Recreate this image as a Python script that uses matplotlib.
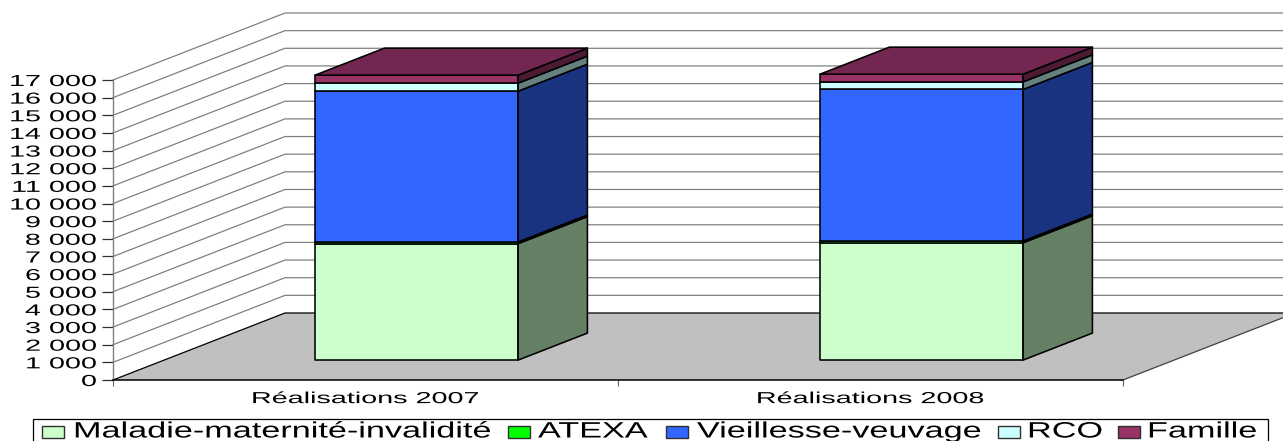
import matplotlib
matplotlib.use("Agg")
import matplotlib.pyplot as plt
from matplotlib.patches import Polygon, Rectangle
from matplotlib.patheffects import AbstractPathEffect
from matplotlib.transforms import Affine2D

categories = ["Réalisations 2007", "Réalisations 2008"]
series_names = ["Maladie-maternité-invalidité", "ATEXA", "Vieillesse-veuvage", "RCO", "Famille"]
maladie = [6600, 6650]
atexa = [95, 95]
vieillesse = [8545, 8592]
rco = [455, 431]
famille = [452, 436]
series_values = [maladie, atexa, vieillesse, rco, famille]
y_ticks = list(range(0, 18000, 1000))
y_tick_labels = [f"{v:,}".replace(",", " ") for v in y_ticks]

front_colors = ["#CCFFCC", "#00FF00", "#3366FF", "#CCFFFF", "#993366"]
side_colors = ["#668066", "#008000", "#1A3380", "#668080", "#4D1A33"]
top_color = "#732650"

W, H = 1283, 441
X0, X1 = 113, 1123      # pixel span of the front category axis
Y0, Y1 = 380, 80        # pixel span of the front value axis
PX_X = (X1 - X0) / 2
PX_Y = (Y0 - Y1) / 17000
DEPTH_X = 172 / PX_X    # wall depth expressed in data units
DEPTH_Y = 67 / PX_Y
BAR_W = 0.402
D_FRONT, D_BACK = 0.297, 0.70


class StretchX(AbstractPathEffect):
    """Widen a real text horizontally around its left/center/right edge."""
    def __init__(self, sx, anchor="left"):
        super().__init__()
        self.sx, self.anchor = sx, anchor

    def draw_path(self, renderer, gc, tpath, affine, rgbFace=None):
        ext = tpath.get_extents(affine)
        x = {"left": ext.x0, "center": (ext.x0 + ext.x1) / 2, "right": ext.x1}[self.anchor]
        new = affine + Affine2D().translate(-x, 0).scale(self.sx, 1).translate(x, 0)
        renderer.draw_path(gc, tpath, new, rgbFace)


plt.rcParams["font.family"] = ["Liberation Sans", "DejaVu Sans"]
fig = plt.figure(figsize=(W / 100, H / 100), dpi=100, facecolor="white")
ax = fig.add_axes([0, 0, 1, 1], facecolor="none")
ax.set_xlim(-X0 / PX_X, (W - X0) / PX_X)
ax.set_ylim(-(H - Y0) / PX_Y, Y0 / PX_Y)


def p(x, v, d=0.0):
    return (x + d * DEPTH_X, v + d * DEPTH_Y)


# gridlines on side and back walls
for v in y_ticks[1:]:
    pts = [p(0, v), p(0, v, 1), p(2, v, 1)]
    ax.plot(*zip(*pts), color="#808080", lw=0.9, zorder=1, solid_joinstyle="miter")

# floor
ax.add_patch(Polygon([p(0, 0), p(2, 0), p(2, 0, 1), p(0, 0, 1)], closed=True,
                     facecolor="#C0C0C0", edgecolor="none", zorder=2))
ax.plot(*zip(*[p(0, 0), p(0, 0, 1), p(2, 0, 1)]), color="black", lw=0.9, zorder=2.1)
ax.plot(*zip(*[p(2, 0), p(2, 0, 1)]), color="#404040", lw=0.9, zorder=2.1)

# stacked 3-D bars
EDGE = dict(edgecolor="black", linewidth=1.15, joinstyle="round", zorder=3)
for i in range(len(categories)):
    xl = i + 0.5 - BAR_W / 2
    xr = i + 0.5 + BAR_W / 2
    base = 0
    for j, vals in enumerate(series_values):
        top = base + vals[i]
        ax.add_patch(Polygon([p(xl, base, D_FRONT), p(xr, base, D_FRONT),
                              p(xr, top, D_FRONT), p(xl, top, D_FRONT)],
                             closed=True, facecolor=front_colors[j], **EDGE))
        ax.add_patch(Polygon([p(xr, base, D_FRONT), p(xr, base, D_BACK),
                              p(xr, top, D_BACK), p(xr, top, D_FRONT)],
                             closed=True, facecolor=side_colors[j], **EDGE))
        base = top
    ax.add_patch(Polygon([p(xl, base, D_FRONT), p(xr, base, D_FRONT),
                          p(xr, base, D_BACK), p(xl, base, D_BACK)],
                         closed=True, facecolor=top_color, **EDGE))

# axes
for s in ("top", "right"):
    ax.spines[s].set_visible(False)
ax.spines["left"].set_position(("data", 0))
ax.spines["left"].set_bounds(0, 17000)
ax.spines["left"].set_color("#808080")
ax.spines["left"].set_linewidth(1.0)
ax.spines["bottom"].set_position(("data", 0))
ax.spines["bottom"].set_bounds(0, 2)
ax.spines["bottom"].set_color("black")
ax.spines["bottom"].set_linewidth(1.1)
for s in ax.spines.values():
    s.set_zorder(4)

ax.set_yticks(y_ticks)
ax.set_yticklabels(y_tick_labels, fontsize=11.5)
ax.tick_params(axis="y", length=7.9, width=0.9, color="#303030", pad=4.0)
ax.set_xticks([0, 1, 2])
ax.set_xticklabels(["", "", ""])
ax.tick_params(axis="x", which="major", length=4.5, width=0.8, color="#606060")
ax.set_xticks([0.5, 1.5], minor=True)
ax.set_xticklabels(categories, minor=True, fontsize=11.5)
ax.tick_params(axis="x", which="minor", length=0, pad=8)
for t in ax.get_yticklabels():
    t.set_path_effects([StretchX(1.8, "right")])
for t in ax.get_xticklabels(minor=True):
    t.set_path_effects([StretchX(1.8, "center")])

# legend frame, swatches and labels in pixel space
pix = Affine2D().scale(1, -1).translate(0, H)  # pixels, origin top-left
fig.add_artist(Rectangle((32.5, 418.5), 1235, 30, transform=pix, facecolor="white",
                         edgecolor="black", linewidth=0.9))
swatch_x = [42, 508, 666, 998, 1118]
text_x = [74, 538, 697, 1028, 1148]
for sx, tx, name, col in zip(swatch_x, text_x, series_names, front_colors):
    fig.add_artist(Rectangle((sx, 426), 22, 12, transform=pix, facecolor=col,
                             edgecolor="#303030", linewidth=1.0))
    txt = fig.text(tx, 437.5, name, transform=pix, ha="left", va="baseline",
                   fontsize=16, color="black")
    txt.set_path_effects([StretchX(1.54, "left")])

fig.savefig("out.png", dpi=100)
